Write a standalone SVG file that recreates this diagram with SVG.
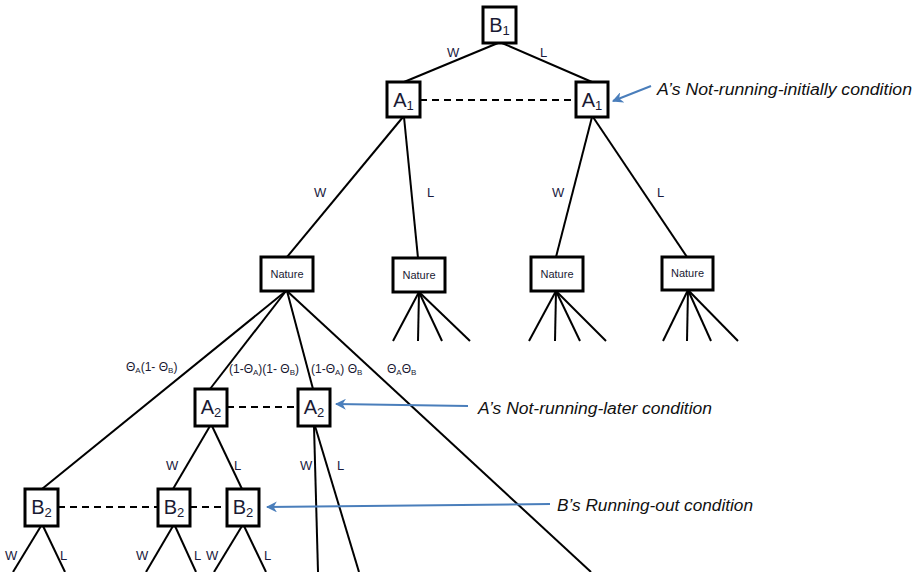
<svg xmlns="http://www.w3.org/2000/svg" width="920" height="572" viewBox="0 0 920 572">
<defs>
<style>
.box{fill:#fff;stroke:#000;stroke-width:3}
.ln{stroke:#000;stroke-width:2;fill:none}
.dash{stroke:#000;stroke-width:2;stroke-dasharray:7,5;fill:none}
.arr{stroke:#4a7ebb;stroke-width:2;fill:none;marker-end:url(#ah)}
.nl{font-family:"Liberation Sans",Arial,sans-serif;font-size:20px;fill:#1a1a33;text-anchor:middle}
.nat{font-family:"Liberation Sans",Arial,sans-serif;font-size:11px;fill:#1a1a33;text-anchor:middle}
.lb{font-family:"Liberation Sans",Arial,sans-serif;font-size:13px;fill:#1a1a40}
.pr{font-family:"Liberation Sans",Arial,sans-serif;font-size:12px;fill:#1a1a33}
.an{font-family:"Liberation Sans",Arial,sans-serif;font-size:16px;font-style:italic;fill:#111}
</style>
<marker id="ah" viewBox="0 0 10 10" refX="9" refY="5" markerWidth="5.5" markerHeight="5.5" orient="auto" markerUnits="strokeWidth">
<path d="M0,0 L10,5 L0,10 L3,5 Z" fill="#4a7ebb"/>
</marker>
</defs>

<g id="connectors">
<line class="ln" x1="498" y1="43" x2="404" y2="82"/>
<line class="ln" x1="502" y1="43" x2="592" y2="82"/>
<line class="dash" x1="420" y1="100" x2="576" y2="100"/>
<line class="ln" x1="403" y1="117" x2="287" y2="257"/>
<line class="ln" x1="404" y1="117" x2="418" y2="258"/>
<line class="ln" x1="592" y1="117" x2="556" y2="257"/>
<line class="ln" x1="593" y1="117" x2="687" y2="257"/>
<line class="ln" x1="286" y1="291" x2="42" y2="489"/>
<line class="ln" x1="286" y1="291" x2="210" y2="389"/>
<line class="ln" x1="287" y1="291" x2="313" y2="389"/>
<line class="ln" x1="287" y1="291" x2="591" y2="572"/>
<line class="ln" x1="419" y1="292" x2="393" y2="341"/>
<line class="ln" x1="419" y1="292" x2="418" y2="341"/>
<line class="ln" x1="419" y1="292" x2="442" y2="341"/>
<line class="ln" x1="419" y1="292" x2="470" y2="341"/>
<line class="ln" x1="556" y1="291" x2="529" y2="341"/>
<line class="ln" x1="556" y1="291" x2="555" y2="341"/>
<line class="ln" x1="556" y1="291" x2="580" y2="341"/>
<line class="ln" x1="556" y1="291" x2="606" y2="341"/>
<line class="ln" x1="688" y1="290" x2="663" y2="341"/>
<line class="ln" x1="688" y1="290" x2="687" y2="341"/>
<line class="ln" x1="688" y1="290" x2="711" y2="341"/>
<line class="ln" x1="688" y1="290" x2="738" y2="341"/>
<line class="dash" x1="227" y1="407" x2="298" y2="407"/>
<line class="ln" x1="210" y1="426" x2="173" y2="489"/>
<line class="ln" x1="212" y1="426" x2="242" y2="489"/>
<line class="ln" x1="314" y1="426" x2="318" y2="572"/>
<line class="ln" x1="315" y1="426" x2="359" y2="572"/>
<line class="dash" x1="58" y1="507" x2="158" y2="507"/>
<line class="dash" x1="190" y1="507" x2="227" y2="507"/>
<line class="ln" x1="41" y1="526" x2="13" y2="572"/>
<line class="ln" x1="43" y1="526" x2="65" y2="572"/>
<line class="ln" x1="173" y1="526" x2="146" y2="572"/>
<line class="ln" x1="175" y1="526" x2="196" y2="572"/>
<line class="ln" x1="242" y1="526" x2="214" y2="572"/>
<line class="ln" x1="244" y1="526" x2="266" y2="572"/>
<line class="arr" x1="651" y1="86" x2="613" y2="101"/>
<line class="arr" x1="468" y1="406" x2="336" y2="404"/>
<line class="arr" x1="550" y1="504" x2="267" y2="507"/>
</g>

<g id="edge-labels">
<text class="lb" x="447" y="57">W</text>
<text class="lb" x="540" y="57">L</text>
<text class="lb" x="314" y="197">W</text>
<text class="lb" x="427" y="197">L</text>
<text class="lb" x="552" y="197">W</text>
<text class="lb" x="657" y="197">L</text>
<text class="lb" x="166" y="470">W</text>
<text class="lb" x="234" y="470">L</text>
<text class="lb" x="300" y="470">W</text>
<text class="lb" x="337" y="470">L</text>
<text class="lb" x="5" y="560">W</text>
<text class="lb" x="60" y="560">L</text>
<text class="lb" x="136" y="560">W</text>
<text class="lb" x="194" y="560">L</text>
<text class="lb" x="206" y="560">W</text>
<text class="lb" x="264" y="560">L</text>
<text class="pr" x="126" y="371">Θ<tspan font-size="8" dy="2">A</tspan><tspan dy="-2">(1- Θ</tspan><tspan font-size="8" dy="2">B</tspan><tspan dy="-2">)</tspan></text>
<text class="pr" x="229" y="373">(1-Θ<tspan font-size="8" dy="2">A</tspan><tspan dy="-2">)(1- Θ</tspan><tspan font-size="8" dy="2">B</tspan><tspan dy="-2">)</tspan></text>
<text class="pr" x="311" y="373">(1-Θ<tspan font-size="8" dy="2">A</tspan><tspan dy="-2">) Θ</tspan><tspan font-size="8" dy="2">B</tspan></text>
<text class="pr" x="387" y="373">Θ<tspan font-size="8" dy="2">A</tspan><tspan dy="-2">Θ</tspan><tspan font-size="8" dy="2">B</tspan></text>
</g>

<g id="B1"><rect class="box" x="483" y="7" width="33" height="36"/><text class="nl" x="499.5" y="32">B<tspan font-size="13" dy="3">1</tspan></text></g>
<g id="A1-left"><rect class="box" x="387" y="82" width="33" height="35"/><text class="nl" x="403.5" y="107">A<tspan font-size="13" dy="3">1</tspan></text></g>
<g id="A1-right"><rect class="box" x="576" y="82" width="32" height="35"/><text class="nl" x="592" y="107">A<tspan font-size="13" dy="3">1</tspan></text></g>
<g id="Nature1"><rect class="box" x="261" y="257" width="52" height="34"/><text class="nat" x="287" y="278">Nature</text></g>
<g id="Nature2"><rect class="box" x="393" y="258" width="52" height="34"/><text class="nat" x="419" y="279">Nature</text></g>
<g id="Nature3"><rect class="box" x="531" y="257" width="52" height="34"/><text class="nat" x="557" y="278">Nature</text></g>
<g id="Nature4"><rect class="box" x="662" y="257" width="51" height="33"/><text class="nat" x="687.5" y="277">Nature</text></g>
<g id="A2-left"><rect class="box" x="195" y="389" width="32" height="37"/><text class="nl" x="211" y="414">A<tspan font-size="13" dy="3">2</tspan></text></g>
<g id="A2-right"><rect class="box" x="298" y="389" width="32" height="37"/><text class="nl" x="314" y="414">A<tspan font-size="13" dy="3">2</tspan></text></g>
<g id="B2-left"><rect class="box" x="25" y="489" width="33" height="37"/><text class="nl" x="41.5" y="514">B<tspan font-size="13" dy="3">2</tspan></text></g>
<g id="B2-mid"><rect class="box" x="158" y="489" width="32" height="37"/><text class="nl" x="174" y="514">B<tspan font-size="13" dy="3">2</tspan></text></g>
<g id="B2-right"><rect class="box" x="227" y="489" width="32" height="37"/><text class="nl" x="243" y="514">B<tspan font-size="13" dy="3">2</tspan></text></g>

<g id="annotations">
<text class="an" x="657" y="95" textLength="255" lengthAdjust="spacingAndGlyphs">A’s Not-running-initially condition</text>
<text class="an" x="478" y="414" textLength="234" lengthAdjust="spacingAndGlyphs">A’s Not-running-later condition</text>
<text class="an" x="557" y="511" textLength="196" lengthAdjust="spacingAndGlyphs">B’s Running-out condition</text>
</g>
</svg>
